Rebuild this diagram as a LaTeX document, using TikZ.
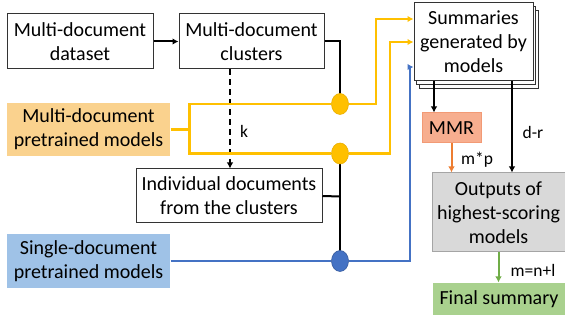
\documentclass[tikz,border=0pt]{standalone}
\usepackage{fontspec}
\setmainfont{Carlito}
\usetikzlibrary{arrows.meta,shadows,calc,shapes.geometric}
\definecolor{orfill}{HTML}{FAD28E}
\definecolor{blfill}{HTML}{9FC2E7}
\definecolor{gyfill}{HTML}{D9D9D9}
\definecolor{gyline}{HTML}{A5A5A5}
\definecolor{grfill}{HTML}{A9D18E}
\definecolor{grline}{HTML}{70AD47}
\definecolor{mmrfill}{HTML}{F7AE8F}
\definecolor{mmrline}{HTML}{F29A75}
\definecolor{yel}{HTML}{FFC000}
\definecolor{yeldark}{HTML}{E8AE00}
\definecolor{blu}{HTML}{4472C4}
\definecolor{org}{HTML}{ED7D31}
\tikzset{
  box/.style={draw=black!80, line width=1pt, fill=white, inner sep=0pt, align=center,
              font=\fontsize{20}{24}\selectfont},
  lbl/.style={font=\fontsize{17.5}{20}\selectfont, inner sep=0pt},
  blk/.style={draw=black, line width=2pt},
  yl/.style={draw=yel, line width=2.3pt},
  bl/.style={draw=blu, line width=2.3pt},
  tip/.style={-{Latex[length=6pt,width=6.5pt]}},
  dot/.style={ellipse, minimum width=17pt, minimum height=21pt, inner sep=0pt},
}
\begin{document}
\begin{tikzpicture}[x=1pt,y=-1pt]
\useasboundingbox (0,0) rectangle (565,320);
% boxes
\node[box, minimum width=146pt, minimum height=55pt] (dataset) at (80,41.5) {Multi-document\\dataset};
\node[box, minimum width=145pt, minimum height=55pt] (clusters) at (251.5,41.5) {Multi-document\\clusters};
\node[box, draw=none, fill=orfill, minimum width=163pt, minimum height=53pt] (mpre) at (88.5,129.5) {Multi-document\\pretrained models};
\node[box, minimum width=186pt, minimum height=54pt] (indiv) at (229,196) {Individual documents\\from the clusters};
\node[box, draw=none, fill=blfill, minimum width=163pt, minimum height=54pt] (spre) at (88.5,261) {Single-document\\pretrained models};
\node[box, minimum width=119pt, minimum height=78pt,
      double copy shadow={shadow xshift=2.6pt, shadow yshift=-3.6pt, draw=black!80, fill=white, line width=1pt}]
      (summ) at (473.5,42) {Summaries\\generated by\\models};
\node[box, draw=mmrline, fill=mmrfill, minimum width=59pt, minimum height=30pt] (mmr) at (451.5,128) {MMR};
\node[box, draw=gyline, fill=gyfill, minimum width=133pt, minimum height=79pt] (outputs) at (498.5,212.5) {Outputs of\\highest-scoring\\models};
\node[box, draw=none, fill=grfill, minimum width=132pt, minimum height=32pt] (final) at (499,299) {Final summary};
% black connectors
\draw[blk, tip] (dataset) -- (clusters);
\draw[blk] (clusters.east) -| (340,104);
\draw[blk] (340,153.5) -- (340,261);
\draw[blk] (indiv.east) -- (340,196.5);
\draw[line width=1.6pt, dash pattern=on 6pt off 4pt, tip] ([xshift=-21.5pt]clusters.south) -- ([xshift=-21.5pt]clusters.south |- indiv.north);
\node[lbl] (k) at (244,131) {k};
% junction dots
\node[dot, fill=yel, draw=yeldark, line width=0.6pt] (c1) at (340,104) {};
\node[dot, fill=yel, draw=yeldark, line width=0.6pt] (c2) at (340,153.5) {};
\node[dot, fill=blu, draw=blu!80!black, line width=0.6pt] (c3) at (340,261) {};
% yellow connectors
\coordinate (br) at ($(mpre.east)+(19,0)$);
\draw[yl] (mpre.east) -- (br);
\draw[yl] (br) |- (c1.west);
\draw[yl] (br) |- (c2.west);
\draw[yl, tip] (c1.east) -- ++(27,0) |- ([yshift=23pt]summ.west);
\draw[yl, tip] (c2.east) -- ++(41.5,0) |- (summ.west);
% blue connectors
\draw[bl] (spre.east) -- (c3.west);
\draw[bl, tip] (c3.east) -- ++(61,0) |- ([yshift=-25pt]summ.west);
% right column
\draw[blk, tip] ([xshift=20.5pt]summ.south west) -- ([xshift=20.5pt]summ.south west |- mmr.north);
\draw[blk, tip] ([xshift=38.5pt]summ.south) -- ([xshift=38.5pt]summ.south |- outputs.north);
\draw[draw=org, line width=2pt, tip] (mmr.south) -- (mmr.south |- outputs.north);
\draw[draw=grline, line width=2pt, tip] (outputs.south) -- (outputs.south |- final.north);
\node[lbl] (dr) at (533,132) {d-r};
\node[lbl] (mp) at (477,160) {m*p};
\node[lbl] (mnl) at (533,270) {m=n+l};
\end{tikzpicture}
\end{document}
